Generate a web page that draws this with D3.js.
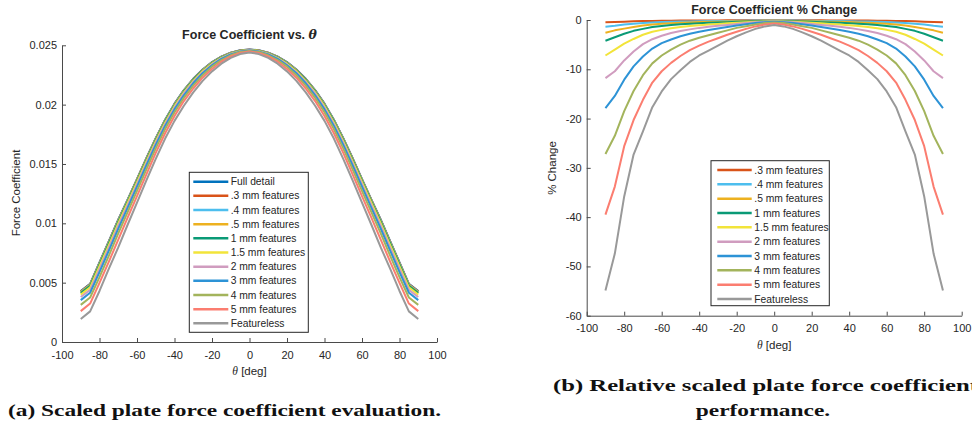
<!DOCTYPE html>
<html><head><meta charset="utf-8">
<script src="https://cdn.jsdelivr.net/npm/d3@7"></script>
<style>
body{margin:0;background:#fff;overflow:hidden}
svg{display:block}
text{font-family:"Liberation Sans",Arial,sans-serif;fill:#262626}
</style>
</head><body>
<svg id="c" width="972" height="423"></svg>
<script>
// ---------- data ----------
const theta = [-90,-85,-80,-75,-70,-65,-60,-55,-50,-45,-40,-35,-30,-25,-20,-15,-10,-5,0,5,10,15,20,25,30,35,40,45,50,55,60,65,70,75,80,85,90];
const xTicks = [-100,-80,-60,-40,-20,0,20,40,60,80,100];
const yTicksA = [0,0.005,0.01,0.015,0.02,0.025];
const yTickLabelsA = ["0","0.005","0.01","0.015","0.02","0.025"];
const yTicksB = [-60,-50,-40,-30,-20,-10,0];

const seriesNames = ["Full detail",".3 mm features",".4 mm features",".5 mm features","1 mm features","1.5 mm features","2 mm features","3 mm features","4 mm features","5 mm features","Featureless"];
const seriesColors = ["#0072BD","#D95319","#4DBEEE","#EDB120","#0A9A76","#F2E43A","#D09CBF","#2D93D6","#A3B45C","#FB7D70","#999999"];

// Force coefficient (panel a)
const fcFull = [0.0043,0.0049,0.0067,0.0085,0.0103,0.012,0.01373,0.01548,0.01718,0.01873,0.02008,0.02123,0.02218,0.02296,0.02358,0.02405,0.02438,0.02458,0.02465,0.02458,0.02438,0.02405,0.02358,0.02296,0.02218,0.02123,0.02008,0.01873,0.01718,0.01548,0.01373,0.012,0.0103,0.0085,0.0067,0.0049,0.0043];
const fc03 = [0.00428,0.00488,0.00668,0.00848,0.01028,0.01198,0.01371,0.01546,0.01716,0.01871,0.02006,0.02121,0.02216,0.02294,0.02356,0.02404,0.02437,0.02457,0.02464,0.02457,0.02437,0.02404,0.02356,0.02294,0.02216,0.02121,0.02006,0.01871,0.01716,0.01546,0.01371,0.01198,0.01028,0.00848,0.00668,0.00488,0.00428];
const fc04 = [0.00424,0.00484,0.00664,0.00844,0.01024,0.01194,0.01367,0.01542,0.01713,0.01868,0.02003,0.02118,0.02214,0.02292,0.02354,0.02402,0.02435,0.02455,0.02463,0.02455,0.02435,0.02402,0.02354,0.02292,0.02214,0.02118,0.02003,0.01868,0.01713,0.01542,0.01367,0.01194,0.01024,0.00844,0.00664,0.00484,0.00424];
const fc05 = [0.00419,0.0048,0.00658,0.00838,0.01018,0.01189,0.01363,0.01538,0.01708,0.01864,0.01999,0.02115,0.0221,0.02289,0.02352,0.024,0.02433,0.02454,0.02461,0.02454,0.02433,0.024,0.02352,0.02289,0.0221,0.02115,0.01999,0.01864,0.01708,0.01538,0.01363,0.01189,0.01018,0.00838,0.00658,0.0048,0.00419];
const fc1 = [0.00412,0.00473,0.00651,0.00831,0.01011,0.01183,0.01357,0.01532,0.01703,0.01859,0.01995,0.02111,0.02207,0.02286,0.02349,0.02398,0.02432,0.02453,0.0246,0.02453,0.02432,0.02398,0.02349,0.02286,0.02207,0.02111,0.01995,0.01859,0.01703,0.01532,0.01357,0.01183,0.01011,0.00831,0.00651,0.00473,0.00412];
const fc15 = [0.00399,0.00461,0.00638,0.00817,0.00999,0.01171,0.01346,0.01522,0.01693,0.0185,0.01987,0.02103,0.022,0.02281,0.02345,0.02394,0.02429,0.02451,0.02459,0.02451,0.02429,0.02394,0.02345,0.02281,0.022,0.02103,0.01987,0.0185,0.01693,0.01522,0.01346,0.01171,0.00999,0.00817,0.00638,0.00461,0.00399];
const fc2 = [0.00379,0.00439,0.00615,0.00796,0.0098,0.01153,0.01329,0.01507,0.01679,0.01837,0.01976,0.02094,0.02192,0.02273,0.02339,0.0239,0.02427,0.02449,0.02458,0.02449,0.02427,0.0239,0.02339,0.02273,0.02192,0.02094,0.01976,0.01837,0.01679,0.01507,0.01329,0.01153,0.0098,0.00796,0.00615,0.00439,0.00379];
const fc3 = [0.00353,0.00415,0.00589,0.0077,0.00954,0.0113,0.01308,0.01487,0.01661,0.01821,0.0196,0.02079,0.0218,0.02264,0.02332,0.02385,0.02423,0.02447,0.02456,0.02447,0.02423,0.02385,0.02332,0.02264,0.0218,0.02079,0.0196,0.01821,0.01661,0.01487,0.01308,0.0113,0.00954,0.0077,0.00589,0.00415,0.00353];
const fc4 = [0.00313,0.00375,0.00546,0.00728,0.00915,0.01094,0.01274,0.01455,0.01632,0.01794,0.01936,0.02057,0.0216,0.02248,0.0232,0.02375,0.02416,0.02443,0.02453,0.02443,0.02416,0.02375,0.0232,0.02248,0.0216,0.02057,0.01936,0.01794,0.01632,0.01455,0.01274,0.01094,0.00915,0.00728,0.00546,0.00375,0.00313];
const fc5 = [0.0026,0.00324,0.00498,0.00677,0.00863,0.01048,0.0123,0.01413,0.01593,0.01759,0.01904,0.0203,0.02136,0.02227,0.02301,0.02362,0.02406,0.02436,0.02448,0.02436,0.02406,0.02362,0.02301,0.02227,0.02136,0.0203,0.01904,0.01759,0.01593,0.01413,0.0123,0.01048,0.00863,0.00677,0.00498,0.00324,0.0026];
const fcFeatureless = [0.00194,0.00258,0.0043,0.00618,0.00797,0.00988,0.01174,0.01362,0.01543,0.01714,0.01863,0.01991,0.02103,0.022,0.0228,0.02345,0.02394,0.02426,0.0244,0.02426,0.02394,0.02345,0.0228,0.022,0.02103,0.01991,0.01863,0.01714,0.01543,0.01362,0.01174,0.00988,0.00797,0.00618,0.0043,0.00258,0.00194];

// Percent change vs full detail (panel b)
const pc03 = [-0.45,-0.4,-0.33,-0.26,-0.22,-0.18,-0.16,-0.14,-0.12,-0.11,-0.1,-0.09,-0.08,-0.07,-0.07,-0.06,-0.06,-0.05,-0.05,-0.05,-0.06,-0.06,-0.07,-0.07,-0.08,-0.09,-0.1,-0.11,-0.12,-0.14,-0.16,-0.18,-0.22,-0.26,-0.33,-0.4,-0.45];
const pc04 = [-1.35,-1.18,-0.93,-0.74,-0.6,-0.49,-0.41,-0.36,-0.31,-0.28,-0.24,-0.22,-0.2,-0.18,-0.15,-0.14,-0.12,-0.11,-0.1,-0.11,-0.12,-0.14,-0.15,-0.18,-0.2,-0.22,-0.24,-0.28,-0.31,-0.36,-0.41,-0.49,-0.6,-0.74,-0.93,-1.18,-1.35];
const pc05 = [-2.6,-2.1,-1.75,-1.4,-1.13,-0.91,-0.76,-0.65,-0.57,-0.49,-0.43,-0.38,-0.34,-0.3,-0.26,-0.22,-0.19,-0.16,-0.15,-0.16,-0.19,-0.22,-0.26,-0.3,-0.34,-0.38,-0.43,-0.49,-0.57,-0.65,-0.76,-0.91,-1.13,-1.4,-1.75,-2.1,-2.6];
const pc1 = [-4.2,-3.5,-2.8,-2.2,-1.8,-1.44,-1.2,-1.02,-0.88,-0.76,-0.66,-0.58,-0.51,-0.44,-0.37,-0.31,-0.26,-0.22,-0.2,-0.22,-0.26,-0.31,-0.37,-0.44,-0.51,-0.58,-0.66,-0.76,-0.88,-1.02,-1.2,-1.44,-1.8,-2.2,-2.8,-3.5,-4.2];
const pc15 = [-7.2,-6.0,-4.8,-3.85,-3.0,-2.4,-2.0,-1.67,-1.43,-1.22,-1.05,-0.92,-0.8,-0.67,-0.55,-0.45,-0.35,-0.28,-0.25,-0.28,-0.35,-0.45,-0.55,-0.67,-0.8,-0.92,-1.05,-1.22,-1.43,-1.67,-2.0,-2.4,-3.0,-3.85,-4.8,-6.0,-7.2];
const pc2 = [-11.8,-10.4,-8.2,-6.4,-4.9,-3.9,-3.2,-2.65,-2.25,-1.9,-1.6,-1.38,-1.18,-1.0,-0.8,-0.62,-0.47,-0.36,-0.3,-0.36,-0.47,-0.62,-0.8,-1.0,-1.18,-1.38,-1.6,-1.9,-2.25,-2.65,-3.2,-3.9,-4.9,-6.4,-8.2,-10.4,-11.8];
const pc3 = [-17.9,-15.4,-12.1,-9.4,-7.4,-5.8,-4.7,-3.95,-3.3,-2.8,-2.4,-2.05,-1.73,-1.4,-1.1,-0.84,-0.61,-0.44,-0.35,-0.44,-0.61,-0.84,-1.1,-1.4,-1.73,-2.05,-2.4,-2.8,-3.3,-3.95,-4.7,-5.8,-7.4,-9.4,-12.1,-15.4,-17.9];
const pc4 = [-27.2,-23.5,-18.5,-14.4,-11.2,-8.8,-7.2,-6.0,-5.0,-4.2,-3.6,-3.1,-2.6,-2.1,-1.6,-1.25,-0.9,-0.63,-0.5,-0.63,-0.9,-1.25,-1.6,-2.1,-2.6,-3.1,-3.6,-4.2,-5.0,-6.0,-7.2,-8.8,-11.2,-14.4,-18.5,-23.5,-27.2];
const pc5 = [-39.5,-33.8,-25.6,-20.3,-16.2,-12.7,-10.4,-8.7,-7.3,-6.1,-5.2,-4.4,-3.7,-3.0,-2.4,-1.8,-1.3,-0.9,-0.7,-0.9,-1.3,-1.8,-2.4,-3.0,-3.7,-4.4,-5.2,-6.1,-7.3,-8.7,-10.4,-12.7,-16.2,-20.3,-25.6,-33.8,-39.5];
const pcFeatureless = [-54.9,-47.4,-35.8,-27.3,-22.6,-17.7,-14.5,-12.0,-10.2,-8.5,-7.2,-6.2,-5.2,-4.2,-3.3,-2.5,-1.8,-1.3,-1.0,-1.3,-1.8,-2.5,-3.3,-4.2,-5.2,-6.2,-7.2,-8.5,-10.2,-12.0,-14.5,-17.7,-22.6,-27.3,-35.8,-47.4,-54.9];

const seriesA = [fcFull,fc03,fc04,fc05,fc1,fc15,fc2,fc3,fc4,fc5,fcFeatureless];
const seriesB = [pc03,pc04,pc05,pc1,pc15,pc2,pc3,pc4,pc5,pcFeatureless];

// ---------- drawing ----------
const svg = d3.select("#c");
const AX = "#4a4a4a";

function styleAxis(g){
  g.selectAll(".domain").attr("stroke",AX).attr("stroke-width",1);
  g.selectAll(".tick line").attr("stroke",AX).attr("stroke-width",1);
  g.selectAll(".tick text").style("font-family",'"Liberation Sans",Arial,sans-serif').style("font-size","11px").attr("fill","#262626");
}

function panel(cfg){
  const x = d3.scaleLinear().domain([-100,100]).range([cfg.x0,cfg.x1]);
  const y = d3.scaleLinear().domain(cfg.ydom).range([cfg.yb,cfg.yt]);
  const line = d3.line().x((d,i)=>x(theta[i])).y(d=>y(d));
  const g = svg.append("g");
  cfg.series.forEach((s,k)=>{
    g.append("path").attr("d",line(s)).attr("fill","none")
      .attr("stroke",cfg.colors[k]).attr("stroke-width",2).attr("stroke-linejoin","round");
  });
  const xa = svg.append("g").attr("transform",`translate(0,${cfg.yb})`)
    .call(d3.axisBottom(x).tickValues(xTicks).tickFormat(d=>String(d)).tickSizeInner(-4).tickSizeOuter(0).tickPadding(9));
  styleAxis(xa);
  const ya = svg.append("g").attr("transform",`translate(${cfg.x0},0)`)
    .call(d3.axisLeft(y).tickValues(cfg.yticks).tickFormat(cfg.yfmt).tickSizeInner(-4).tickSizeOuter(0).tickPadding(5));
  styleAxis(ya);
  const t = svg.append("text").attr("x",(cfg.x0+cfg.x1)/2).attr("y",cfg.titleY)
    .attr("text-anchor","middle").style("font-weight","bold").style("font-size","12.5px");
  t.append("tspan").text(cfg.title);
  if(cfg.titleTheta){
    t.append("tspan").style("font-family",'"DejaVu Serif","Liberation Serif",serif').style("font-style","italic").style("font-weight","bold").text("θ");
  }
  const xl = svg.append("text").attr("x",(cfg.x0+cfg.x1)/2).attr("y",cfg.xlabY)
    .attr("text-anchor","middle").style("font-size","11.5px");
  xl.append("tspan").style("font-family",'"Liberation Serif",serif').style("font-style","italic").text("θ");
  xl.append("tspan").text(" [deg]");
  svg.append("text").attr("transform",`translate(${cfg.ylabX},${cfg.ylabY}) rotate(-90)`)
    .attr("text-anchor","middle").style("font-size","11.5px").text(cfg.ylabel);
  const L = cfg.legend;
  const lg = svg.append("g");
  lg.append("rect").attr("x",L.x).attr("y",L.y).attr("width",L.w).attr("height",L.h)
    .attr("fill","#fff").attr("stroke","#262626").attr("stroke-width",1);
  cfg.names.forEach((n,k)=>{
    const yy = L.r0 + k*L.dy;
    lg.append("line").attr("x1",L.lx0).attr("x2",L.lx1).attr("y1",yy).attr("y2",yy)
      .attr("stroke",cfg.colors[k]).attr("stroke-width",2.5);
    lg.append("text").attr("x",L.tx).attr("y",yy).attr("dy","0.35em")
      .style("font-size","10.3px").text(n);
  });
}

panel({
  x0:62, x1:437, yb:342, yt:45.3, ydom:[0,0.025],
  yticks:yTicksA, yfmt:(d,i)=>yTickLabelsA[i],
  series:seriesA, colors:seriesColors, names:seriesNames,
  title:"Force Coefficient vs. ", titleTheta:true, titleY:39,
  xlabY:375, ylabel:"Force Coefficient", ylabX:20, ylabY:193,
  legend:{x:189.3,y:172.3,w:119,h:160,r0:181.7,dy:14.16,lx0:193.3,lx1:228.3,tx:230.7}
});

panel({
  x0:586.7, x1:961.7, yb:315.7, yt:20, ydom:[-60,0],
  yticks:yTicksB, yfmt:d=>String(d),
  series:seriesB, colors:seriesColors.slice(1), names:seriesNames.slice(1),
  title:"Force Coefficient % Change", titleTheta:false, titleY:14,
  xlabY:349, ylabel:"% Change", ylabX:556, ylabY:168,
  legend:{x:711,y:160.7,w:118.3,h:145,r0:170,dy:14.33,lx0:717.3,lx1:751.7,tx:754.3}
});

// ---------- captions ----------
function cap(txt,x,y,anchor){
  return svg.append("text").attr("x",x).attr("y",y).attr("text-anchor",anchor||"start")
    .style("font-family",'"Liberation Serif","Times New Roman",serif').style("font-weight","bold")
    .style("font-size","17.5px").style("fill","#111").text(txt);
}
const ca = cap("(a) Scaled plate force coefficient evaluation.",8,416);
const la = ca.node().getComputedTextLength();
const sc = 433/la;
ca.attr("textLength",433).attr("lengthAdjust","spacingAndGlyphs");
const cb = cap("(b) Relative scaled plate force coefficient",553,391);
cb.attr("textLength",425).attr("lengthAdjust","spacingAndGlyphs");
const cp = cap("performance.",763,416,"middle");
cp.attr("textLength",cp.node().getComputedTextLength()*sc).attr("lengthAdjust","spacingAndGlyphs");
</script>
</body></html>
